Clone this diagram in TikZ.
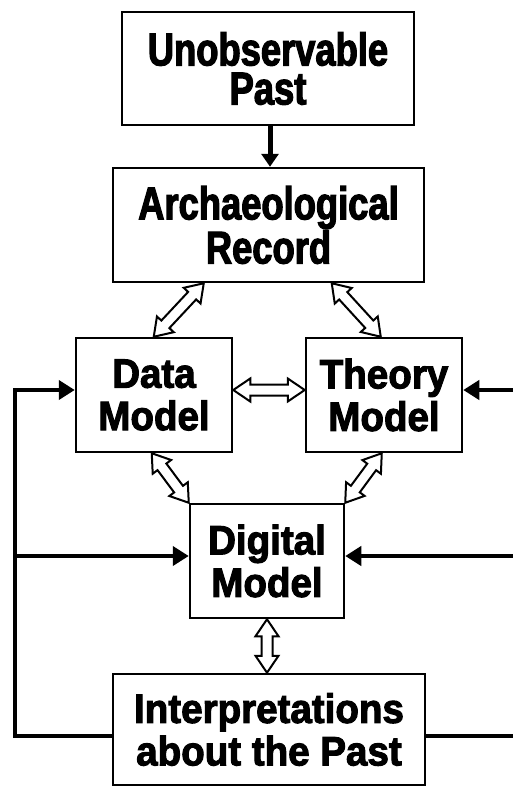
\documentclass[tikz,border=0pt]{standalone}
\usepackage{fontspec}
\setmainfont{Liberation Sans}
\newfontfamily\fbig{Liberation Sans}[FakeStretch=0.79,FakeBold=2.5]
\newfontfamily\fsmall{Liberation Sans}[FakeStretch=0.94,FakeBold=2.5]
\usetikzlibrary{calc,arrows.meta}
\newcommand\harrow[2]{%
  \draw[hollow] (#1)
   -- ($(#1)!17pt!(#2)!11.5pt!90:(#2)$)
   -- ($(#1)!17pt!(#2)!5.5pt!90:(#2)$)
   -- ($(#2)!17pt!(#1)!5.5pt!-90:(#1)$)
   -- ($(#2)!17pt!(#1)!11.5pt!-90:(#1)$)
   -- (#2)
   -- ($(#2)!17pt!(#1)!11.5pt!90:(#1)$)
   -- ($(#2)!17pt!(#1)!5.5pt!90:(#1)$)
   -- ($(#1)!17pt!(#2)!5.5pt!-90:(#2)$)
   -- ($(#1)!17pt!(#2)!11.5pt!-90:(#2)$)
   -- cycle;}
\begin{document}
\begin{tikzpicture}[x=1pt,y=-1pt,
  box/.style={draw,line width=2.5pt,fill=white,inner sep=0pt,align=center},
  bigtxt/.style={font=\fbig\bfseries\fontsize{46pt}{39pt}\selectfont},
  smalltxt/.style={font=\fsmall\bfseries\fontsize{41pt}{42.5pt}\selectfont},
  blk/.style={line width=4.5pt},
  blkarrow/.style={blk,-{Triangle[length=16pt,width=19pt]}},
  hollow/.style={draw,fill=white,line width=2pt,line join=miter}]
\fill[white] (0,0) rectangle (513,787);
\useasboundingbox (0,0) rectangle (513,787);

\node[box,bigtxt,minimum width=292pt,minimum height=113pt] (up) at (268,68.5) {Unobservable\\Past};
\node[box,bigtxt,minimum width=311pt,minimum height=114pt] (arch) at (268.5,225) {Archaeological\\Record};
\node[box,smalltxt,minimum width=156pt,minimum height=114pt] (data) at (154,395) {Data\\Model};
\node[box,smalltxt,minimum width=156pt,minimum height=114pt] (theory) at (384,395) {Theory\\Model};
\node[box,smalltxt,minimum width=154pt,minimum height=114pt] (digital) at (267,561) {Digital\\Model};
\node[box,smalltxt,minimum width=312pt,minimum height=111pt] (interp) at (269,729.5) {Interpretations\\about the Past};

% black connectors
\draw[line width=5pt,-{Triangle[length=13pt,width=17pt]}] (up.south -| 270,0) -- (arch.north -| 270,0);
\coordinate (la) at (15,390);
\coordinate (lm) at (15,556);
\coordinate (lb) at (15,736);
\coordinate (ra) at (513,390);
\coordinate (rm) at (513,556);
\coordinate (rb) at (513,736);
\draw[blkarrow,line join=miter] (interp.west |- lb) -- (lb) -- (la) -- (data.west |- la);
\draw[blkarrow] (lm) -- (digital.west |- lm);
\draw[blkarrow] (ra) -- (theory.east |- ra);
\draw[blkarrow] (rm) -- (digital.east |- rm);
\draw[blk] (interp.east |- rb) -- (rb);

% hollow double arrows
\coordinate (h1a) at ($(arch.south west)+(92,0)$);
\coordinate (h1b) at ($(data.north west)+(79,0)$);
\coordinate (h2a) at ($(arch.south west)+(220,0)$);
\coordinate (h2b) at ($(theory.north west)+(76,0)$);
\coordinate (h3a) at (data.east |- la);
\coordinate (h3b) at (theory.west |- la);
\coordinate (h4a) at ($(data.south west)+(77,0)$);
\coordinate (h4b) at (digital.north west);
\coordinate (h5a) at ($(theory.south west)+(77,0)$);
\coordinate (h5b) at (digital.north east);
\coordinate (h6a) at (digital.south);
\coordinate (h6b) at (interp.north -| digital.south);
\harrow{h1a}{h1b}
\harrow{h2a}{h2b}
\harrow{h3a}{h3b}
\harrow{h4a}{h4b}
\harrow{h5a}{h5b}
\harrow{h6a}{h6b}
\end{tikzpicture}
\end{document}
